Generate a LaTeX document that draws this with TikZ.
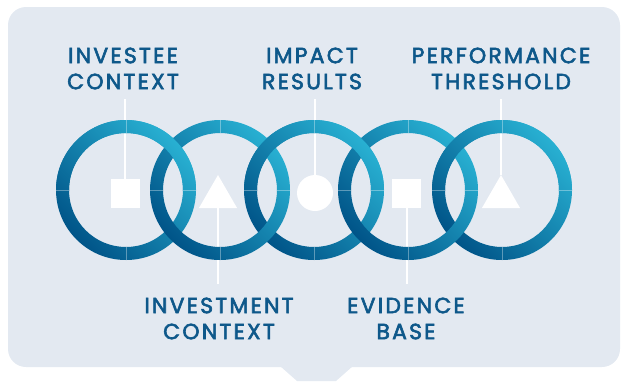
\documentclass[tikz,border=0pt]{standalone}
\usepackage{fontspec}
\newfontfamily\headfont{Poppins}[LetterSpace=10, FakeBold=2.6]
\usetikzlibrary{positioning,
                shapes.geometric}           % regular polygon

\definecolor{panelgrey}{RGB}{227,233,241}
\definecolor{labelblue}{RGB}{14,88,138}
\definecolor{ringdark}{RGB}{0,84,136}
\definecolor{ringlight}{RGB}{40,176,210}

\tikzset{
  headline/.style={text=labelblue, font=\fontsize{22}{26}\selectfont\headfont,
                   align=center, inner sep=0pt},
  marker/.style={fill=white, inner sep=0pt},
  stem/.style={draw=white, line width=2pt},
  ring/.style={even odd rule, top color=ringlight, bottom color=ringdark,
               shading angle=-45},
  seam/.style={draw=white, opacity=0.35, line width=0.6pt}
}

\begin{document}
\begin{tikzpicture}[x=1pt, y=-1pt]
    \useasboundingbox (0,0) rectangle (621,381);

    % panel with notch
    \fill[panelgrey, rounded corners=18pt] (8,7) rectangle (620,367);
    \fill[panelgrey] (280,366) -- (297,381) -- (336,381) -- (353,366) -- cycle;

    % labels
    \node[headline] (investee) at (123,68.5) {INVESTEE\\CONTEXT};
    \node[headline] (impact) at (312,68.5) {IMPACT\\RESULTS};
    \node[headline] (performance) at (501,68.5) {PERFORMANCE\\THRESHOLD};
    \node[headline] (investment) at (219,318.5) {INVESTMENT\\CONTEXT};
    \node[headline] (evidence) at (406,318.5) {EVIDENCE\\BASE};

    % markers
    \node[marker, minimum size=29pt] (sq1) at (125,193.5) {};
    \node[marker, regular polygon, regular polygon sides=3, minimum size=44pt] (tri1) at (218,197) {};
    \node[marker, circle, minimum size=36pt] (dot) at (315,193) {};
    \node[marker, minimum size=29pt] (sq2) at (406.5,193.5) {};
    \node[marker, regular polygon, regular polygon sides=3, minimum size=44pt] (tri2) at (501,197) {};

    % stems
    \draw[stem, shorten >=9pt] (sq1.north) -- (sq1.north |- investee.south);
    \draw[stem, shorten >=9pt] (dot.north) -- (dot.north |- impact.south);
    \draw[stem, shorten >=9pt] (tri2.north) -- (tri2.north |- performance.south);
    \draw[stem, shorten >=13pt] (tri1.south) -- (tri1.south |- investment.north);
    \draw[stem, shorten >=13pt] (sq2.south) -- (sq2.south |- evidence.north);

    % rings
    \foreach \i in {1,...,5}
        \coordinate (c\i) at ({126+94*(\i-1)},190);
    \foreach \i in {1,3,5,2,4}
        \shade[ring] (c\i) circle (70pt) (c\i) circle (57pt);
    \begin{scope}
        \clip (0,0) rectangle (621,190);
        \foreach \i in {1,3,5}
            \shade[ring] (c\i) circle (70pt) (c\i) circle (57pt);
    \end{scope}
    \foreach \i in {1,...,5}
        \foreach \a in {0,90,180,270}
            \draw[seam] (c\i) ++(\a:57pt) -- ++(\a:13pt);
\end{tikzpicture}
\end{document}
